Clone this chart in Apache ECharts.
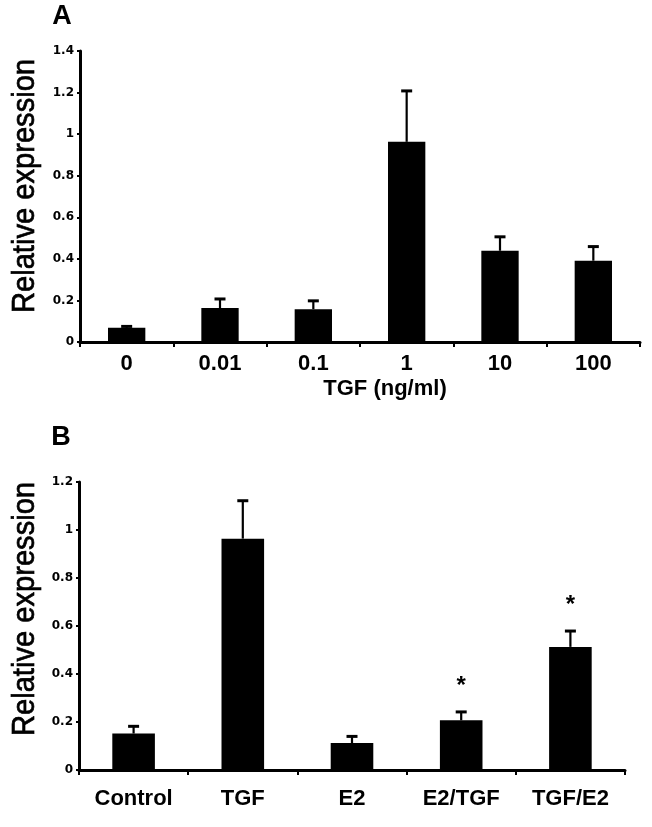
<!DOCTYPE html>
<html><head><meta charset="utf-8">
<script src="https://cdn.jsdelivr.net/npm/echarts@6/dist/echarts.min.js"></script>
<style>html,body{margin:0;padding:0;background:#fff}#c{width:652px;height:827px}</style>
</head><body><div id="c"></div>
<script>
// Panel A: TGF dose response
const aCategories = ['0', '0.01', '0.1', '1', '10', '100'];
const aMeans = [0.068, 0.163, 0.158, 0.963, 0.439, 0.391];
const aErrors = [0.007, 0.044, 0.040, 0.245, 0.067, 0.068];
const aMax = 1.4;
// Panel B: treatments
const bCategories = ['Control', 'TGF', 'E2', 'E2/TGF', 'TGF/E2'];
const bMeans = [0.152, 0.964, 0.112, 0.207, 0.513];
const bErrors = [0.030, 0.158, 0.028, 0.035, 0.066];
const bSignificance = ['', '', '', '*', '*'];
const bMax = 1.2;
const yInterval = 0.2;

const FONT = '"Liberation Sans", Arial, sans-serif';

function errorRender(sig) {
  return function (params, api) {
    const i = api.value(0);
    const top = api.coord([i, api.value(1)]);
    const hi = api.coord([i, api.value(2)]);
    const cap = 5.5;
    const children = [
      { type: 'line', shape: { x1: top[0], y1: top[1], x2: hi[0], y2: hi[1] }, style: { stroke: '#000', lineWidth: 2.2 } },
      { type: 'line', shape: { x1: hi[0] - cap, y1: hi[1], x2: hi[0] + cap, y2: hi[1] }, style: { stroke: '#000', lineWidth: 3 } }
    ];
    if (sig && sig[params.dataIndex]) {
      children.push({ type: 'text', x: hi[0], y: hi[1] - 26, style: { text: sig[params.dataIndex], fill: '#000', fontSize: 24, fontWeight: 'bold', fontFamily: FONT, align: 'center', verticalAlign: 'middle' } });
    }
    return { type: 'group', children };
  };
}

function xAxisCfg(grid, data, margin) {
  return {
    type: 'category', gridIndex: grid, data: data,
    axisLine: { lineStyle: { color: '#000', width: 3 } },
    axisTick: { show: true, length: 5, lineStyle: { color: '#000', width: 2 } },
    axisLabel: { color: '#000', fontSize: 22, fontWeight: 'bold', fontFamily: FONT, margin: margin, interval: 0 }
  };
}
function yAxisCfg(grid, max) {
  return {
    type: 'value', gridIndex: grid, min: 0, max: max, interval: yInterval,
    splitLine: { show: false },
    axisLine: { show: true, lineStyle: { color: '#000', width: 3 } },
    axisTick: { show: true, length: 3, lineStyle: { color: '#000', width: 2 } },
    axisLabel: { color: '#000', fontSize: 12, fontWeight: 'bold', fontFamily: '"DejaVu Sans", sans-serif', margin: 6 }
  };
}

function yTitle(x, y) {
  return { type: 'text', x: x, y: y, rotation: Math.PI / 2, scaleX: 0.91,
    style: { text: 'Relative expression', fill: '#000', stroke: '#000', lineWidth: 0.7, fontSize: 32, fontFamily: FONT, align: 'center', verticalAlign: 'middle' } };
}

const chart = echarts.init(document.getElementById('c'), null, { renderer: 'canvas' });
chart.setOption({
  animation: false,
  backgroundColor: '#fff',
  grid: [
    { left: 80, top: 51, width: 560, height: 291 },
    { left: 79, top: 482, width: 546, height: 288 }
  ],
  xAxis: [xAxisCfg(0, aCategories, 11), xAxisCfg(1, bCategories, 18)],
  yAxis: [yAxisCfg(0, aMax), yAxisCfg(1, bMax)],
  graphic: [
    { type: 'text', x: 62, y: 17, style: { text: 'A', fill: '#000', fontSize: 27, fontWeight: 'bold', fontFamily: FONT, align: 'center', verticalAlign: 'middle' } },
    { type: 'text', x: 61, y: 438, style: { text: 'B', fill: '#000', fontSize: 27, fontWeight: 'bold', fontFamily: FONT, align: 'center', verticalAlign: 'middle' } },
    yTitle(25, 186),
    yTitle(25, 609),
    { type: 'text', x: 385, y: 389, style: { text: 'TGF (ng/ml)', fill: '#000', fontSize: 22, fontWeight: 'bold', fontFamily: FONT, align: 'center', verticalAlign: 'middle' } }
  ],
  series: [
    { type: 'bar', xAxisIndex: 0, yAxisIndex: 0, data: aMeans, barWidth: '40%', itemStyle: { color: '#000' } },
    { type: 'custom', xAxisIndex: 0, yAxisIndex: 0, renderItem: errorRender(null),
      data: aMeans.map((m, i) => [i, m, m + aErrors[i]]), encode: { x: 0, y: [1, 2] }, z: 3 },
    { type: 'bar', xAxisIndex: 1, yAxisIndex: 1, data: bMeans, barWidth: '39%', itemStyle: { color: '#000' } },
    { type: 'custom', xAxisIndex: 1, yAxisIndex: 1, renderItem: errorRender(bSignificance),
      data: bMeans.map((m, i) => [i, m, m + bErrors[i]]), encode: { x: 0, y: [1, 2] }, z: 3 }
  ]
});
</script></body></html>
